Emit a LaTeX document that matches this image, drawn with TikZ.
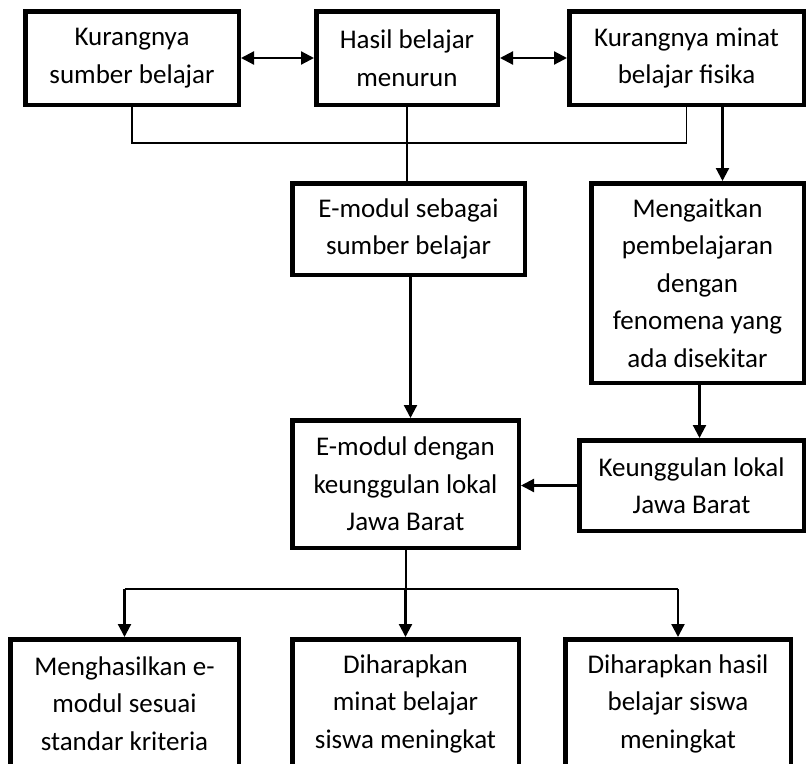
\documentclass[tikz,border=0pt]{standalone}
\usepackage{fontspec}
\setmainfont{Carlito}
\usetikzlibrary{arrows.meta}
\begin{document}
\begin{tikzpicture}[x=1pt,y=-1pt,
  box/.style={draw=black,line width=4.5pt,fill=white,inner sep=0pt,align=center,
    font=\fontsize{27}{37.5}\selectfont},
  thinline/.style={line width=1.6pt},
  arr/.style={line width=2.2pt,-{Triangle[length=13pt,width=13pt]}},
  dblarr/.style={line width=2.2pt,{Triangle[length=13pt,width=13pt]}-{Triangle[length=13pt,width=13pt]}}]
\useasboundingbox (0,0) rectangle (808,763);
\clip (0,0) rectangle (808,763);
% boxes
\node[box,minimum width=213.5pt,minimum height=93.5pt] (b1) at (132,58) {Kurangnya\\sumber belajar};
\node[box,minimum width=181.5pt,minimum height=93.5pt] (b2) at (407,58) {Hasil belajar\\menurun};
\node[box,minimum width=234.5pt,minimum height=93.5pt] (b3) at (686.5,58) {Kurangnya minat\\belajar fisika};
\node[box,minimum width=232.5pt,minimum height=91.5pt] (b4) at (408.5,229) {E-modul sebagai\\sumber belajar};
\node[box,minimum width=212.5pt,minimum height=199.5pt] (b5) at (697.5,283) {Mengaitkan\\pembelajaran\\dengan\\fenomena yang\\ada disekitar};
\node[box,minimum width=226.5pt,minimum height=127.5pt] (b6) at (405.5,484) {E-modul dengan\\keunggulan lokal\\Jawa Barat};
\node[box,minimum width=224.5pt,minimum height=90.5pt] (b7) at (691.5,485.5) {Keunggulan lokal\\Jawa Barat};
\node[box,minimum width=228.5pt,minimum height=128.5pt] (b8) at (124.5,703.5) {Menghasilkan e-\\modul sesuai\\standar kriteria};
\node[box,minimum width=226.5pt,minimum height=128.5pt] (b9) at (405.5,703.5) {Diharapkan\\minat belajar\\siswa meningkat};
\node[box,minimum width=225.5pt,minimum height=128.5pt] (b10) at (678,703.5) {Diharapkan hasil\\belajar siswa\\meningkat};
% top double arrows
\draw[dblarr] (b1.east) -- (b2.west);
\draw[dblarr] (b2.east) -- (b3.west);
% thin joining line
\coordinate (j) at (0,143);
\draw[thinline] (b1.south) -- (b1.south |- j) -- (b3.south |- j) -- (b3.south);
\draw[thinline] (b2.south) -- (b2.south |- b4.north);
% arrows
\draw[arr] ([xshift=36pt]b3.south) -- ([xshift=36pt]b3.south |- b5.north);
\draw[arr] ([xshift=2pt]b4.south) -- ([xshift=2pt]b4.south |- b6.north);
\draw[arr] ([xshift=2pt]b5.south) -- ([xshift=2pt]b5.south |- b7.north);
\draw[arr] (b7.west) -- (b7.west -| b6.east);
% bottom distribution
\coordinate (k) at (0,589);
\draw[line width=2pt] (b6.south) -- (b6.south |- k);
\draw[thinline] (b8.north |- k) -- (b10.north |- k);
\draw[arr] (b6.south |- k) -- (b9.north);
\draw[arr] (b8.north |- k) -- (b8.north);
\draw[arr] (b10.north |- k) -- (b10.north);
\end{tikzpicture}
\end{document}
